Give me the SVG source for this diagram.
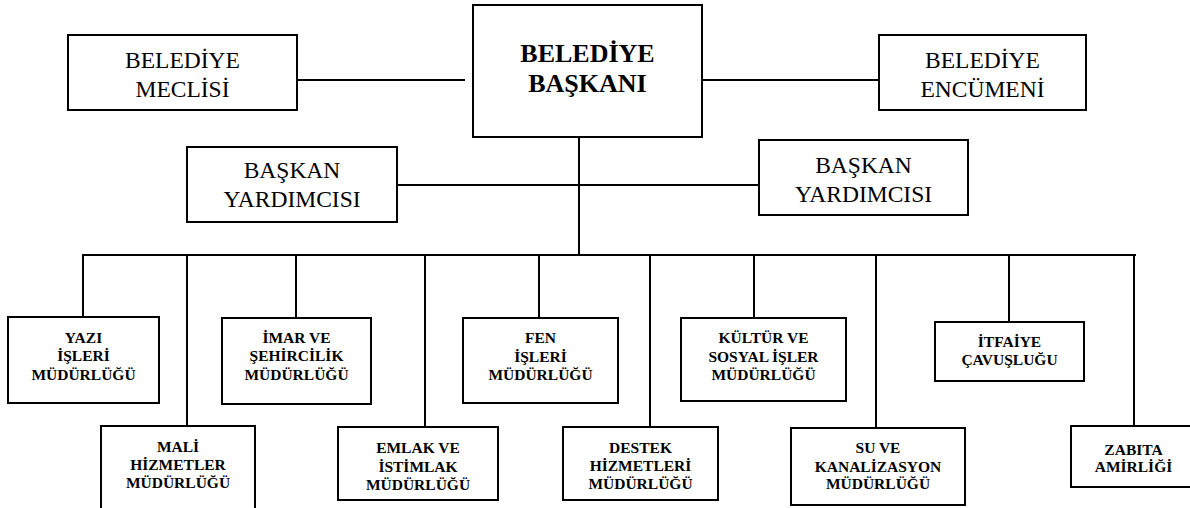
<svg xmlns="http://www.w3.org/2000/svg" width="1190" height="508" viewBox="0 0 1190 508">
<style>
.box{fill:#fff;stroke:#000;stroke-width:2}
.ln{stroke:#000;stroke-width:2;fill:none}
text{font-family:'Liberation Serif','Times New Roman','DejaVu Serif',serif;text-anchor:middle;fill:#000}
.t{font-size:23.5px}
.tb{font-size:26px;font-weight:bold}
.s{font-size:15.5px;font-weight:bold}
</style>
<rect width="1190" height="508" fill="#fff"/>
<g id="connectors">
<line class="ln" x1="297" y1="80" x2="465" y2="80"/>
<line class="ln" x1="698" y1="80" x2="880" y2="80"/>
<line class="ln" x1="579" y1="137" x2="579" y2="255"/>
<line class="ln" x1="397" y1="185" x2="760" y2="185"/>
<line class="ln" x1="82" y1="255" x2="1136" y2="255"/>
<line class="ln" x1="83" y1="255" x2="83" y2="317"/>
<line class="ln" x1="187" y1="255" x2="187" y2="426"/>
<line class="ln" x1="296" y1="255" x2="296" y2="318"/>
<line class="ln" x1="425" y1="255" x2="425" y2="427"/>
<line class="ln" x1="539" y1="255" x2="539" y2="318"/>
<line class="ln" x1="650" y1="255" x2="650" y2="427"/>
<line class="ln" x1="754" y1="255" x2="754" y2="318"/>
<line class="ln" x1="876" y1="255" x2="876" y2="428"/>
<line class="ln" x1="1009" y1="255" x2="1009" y2="322"/>
<line class="ln" x1="1134" y1="255" x2="1134" y2="426"/>
</g>
<g id="meclis">
<rect class="box" x="68" y="35" width="229" height="75"/>
<text class="t" x="182.5" y="68" font-family="Liberation Serif, serif">BELEDİYE</text>
<text class="t" x="182.5" y="97" font-family="Liberation Serif, serif">MECLİSİ</text>
</g>
<g id="baskan">
<rect class="box" x="473" y="5" width="229" height="132"/>
<text class="tb" x="587.5" y="62">BELEDİYE</text>
<text class="tb" x="587.5" y="92">BAŞKANI</text>
</g>
<g id="encumen">
<rect class="box" x="879" y="35" width="207" height="75"/>
<text class="t" x="982.5" y="68">BELEDİYE</text>
<text class="t" x="982.5" y="97">ENCÜMENİ</text>
</g>
<g id="yardimci1">
<rect class="box" x="187" y="147" width="210" height="75"/>
<text class="t" x="292" y="178">BAŞKAN</text>
<text class="t" x="292" y="207">YARDIMCISI</text>
</g>
<g id="yardimci2">
<rect class="box" x="759" y="140" width="209" height="75"/>
<text class="t" x="863.5" y="173">BAŞKAN</text>
<text class="t" x="863.5" y="202">YARDIMCISI</text>
</g>
<g id="yazi">
<rect class="box" x="8" y="317" width="151" height="86"/>
<text class="s" x="83.5" y="343">YAZI</text>
<text class="s" x="83.5" y="361">İŞLERİ</text>
<text class="s" x="83.5" y="380">MÜDÜRLÜĞÜ</text>
</g>
<g id="mali">
<rect class="box" x="101" y="426" width="154" height="90"/>
<text class="s" x="178" y="452">MALİ</text>
<text class="s" x="178" y="470">HİZMETLER</text>
<text class="s" x="178" y="488">MÜDÜRLÜĞÜ</text>
</g>
<g id="imar">
<rect class="box" x="222" y="318" width="149" height="86"/>
<text class="s" x="296.5" y="343">İMAR VE</text>
<text class="s" x="296.5" y="361">ŞEHİRCİLİK</text>
<text class="s" x="296.5" y="380">MÜDÜRLÜĞÜ</text>
</g>
<g id="emlak">
<rect class="box" x="338" y="427" width="160" height="73"/>
<text class="s" x="418" y="453">EMLAK VE</text>
<text class="s" x="418" y="472">İSTİMLAK</text>
<text class="s" x="418" y="490">MÜDÜRLÜĞÜ</text>
</g>
<g id="fen">
<rect class="box" x="463" y="318" width="155" height="85"/>
<text class="s" x="540.5" y="343">FEN</text>
<text class="s" x="540.5" y="362">İŞLERİ</text>
<text class="s" x="540.5" y="380">MÜDÜRLÜĞÜ</text>
</g>
<g id="destek">
<rect class="box" x="563" y="427" width="155" height="73"/>
<text class="s" x="640.5" y="453">DESTEK</text>
<text class="s" x="640.5" y="471">HİZMETLERİ</text>
<text class="s" x="640.5" y="489">MÜDÜRLÜĞÜ</text>
</g>
<g id="kultur">
<rect class="box" x="681" y="318" width="165" height="83"/>
<text class="s" x="763.5" y="343">KÜLTÜR VE</text>
<text class="s" x="763.5" y="362">SOSYAL İŞLER</text>
<text class="s" x="763.5" y="380">MÜDÜRLÜĞÜ</text>
</g>
<g id="su">
<rect class="box" x="791" y="428" width="174" height="77"/>
<text class="s" x="878" y="453">SU VE</text>
<text class="s" x="878" y="472">KANALİZASYON</text>
<text class="s" x="878" y="489">MÜDÜRLÜĞÜ</text>
</g>
<g id="itfaiye">
<rect class="box" x="935" y="322" width="149" height="59"/>
<text class="s" x="1009.5" y="347">İTFAİYE</text>
<text class="s" x="1009.5" y="365">ÇAVUŞLUĞU</text>
</g>
<g id="zabita">
<rect class="box" x="1071" y="426" width="125" height="61"/>
<text class="s" x="1133.5" y="455">ZABITA</text>
<text class="s" x="1133.5" y="472">AMİRLİĞİ</text>
</g>
</svg>
